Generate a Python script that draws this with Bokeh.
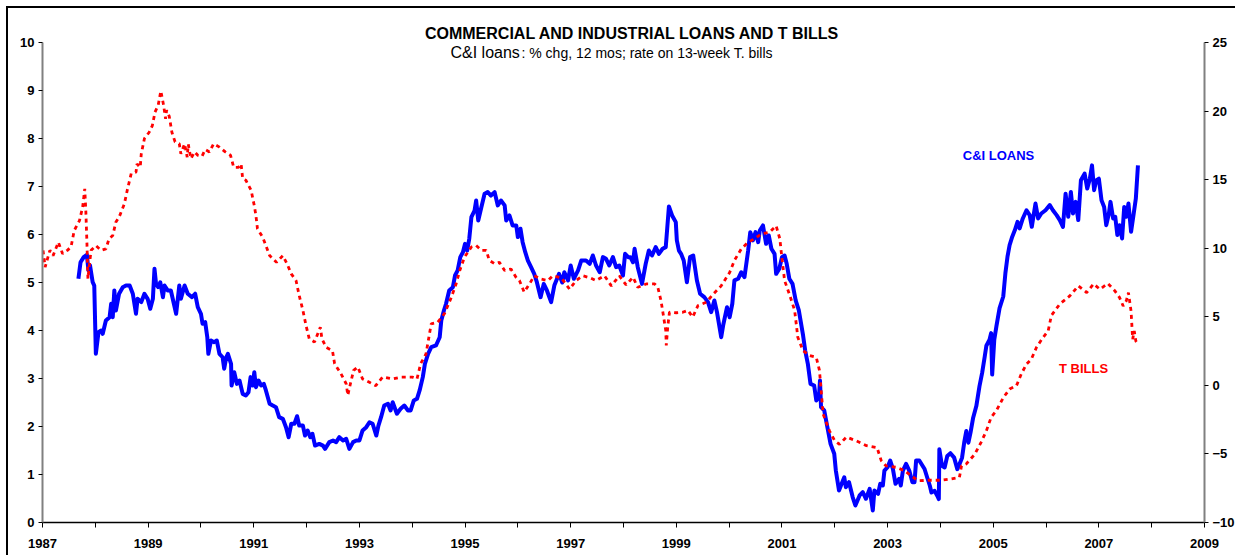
from bokeh.plotting import figure
from bokeh.models import Range1d, LinearAxis, FixedTicker, Label
from bokeh.embed import file_html
from bokeh.resources import INLINE

# ---- data ----
tbill_years = [1987.01, 1987.05, 1987.14, 1987.20, 1987.30, 1987.38, 1987.47, 1987.54, 1987.60, 1987.70,
               1987.76, 1987.80, 1987.82, 1987.84, 1987.86, 1987.89, 1987.92, 1988.01, 1988.11, 1988.20,
               1988.26, 1988.33, 1988.39, 1988.45, 1988.55, 1988.61, 1988.68, 1988.77, 1988.79, 1988.85,
               1988.87, 1988.93, 1989.02, 1989.08, 1989.13, 1989.19, 1989.24, 1989.29, 1989.33, 1989.35,
               1989.40, 1989.45, 1989.51, 1989.59, 1989.62, 1989.69, 1989.74, 1989.76, 1989.81, 1989.88,
               1989.94, 1990.02, 1990.08, 1990.16, 1990.24, 1990.35, 1990.46, 1990.56, 1990.62, 1990.71,
               1990.76, 1990.79, 1990.85, 1990.95, 1991.01, 1991.04, 1991.07, 1991.17, 1991.23, 1991.30,
               1991.43, 1991.55, 1991.63, 1991.71, 1991.80, 1991.86, 1991.93, 1991.99, 1992.05, 1992.15,
               1992.26, 1992.29, 1992.37, 1992.49, 1992.53, 1992.65, 1992.75, 1992.78, 1992.83, 1992.89,
               1992.97, 1993.06, 1993.19, 1993.31, 1993.44, 1993.63, 1993.80, 1994.00, 1994.09, 1994.16,
               1994.26, 1994.36, 1994.48, 1994.61, 1994.74, 1994.83, 1994.90, 1994.99, 1995.12, 1995.21,
               1995.31, 1995.40, 1995.46, 1995.56, 1995.65, 1995.75, 1995.87, 1995.97, 1996.03, 1996.12,
               1996.22, 1996.31, 1996.44, 1996.57, 1996.66, 1996.82, 1996.98, 1997.10, 1997.23, 1997.36,
               1997.48, 1997.64, 1997.77, 1997.92, 1998.05, 1998.18, 1998.27, 1998.43, 1998.59, 1998.65,
               1998.71, 1998.75, 1998.80, 1998.81, 1998.84, 1998.87, 1999.00, 1999.12, 1999.22, 1999.31,
               1999.41, 1999.57, 1999.70, 1999.85, 2000.01, 2000.10, 2000.23, 2000.36, 2000.48, 2000.61,
               2000.77, 2000.89, 2000.96, 2000.99, 2001.05, 2001.14, 2001.24, 2001.30, 2001.40, 2001.52,
               2001.65, 2001.71, 2001.78, 2001.90, 2002.00, 2002.09, 2002.22, 2002.41, 2002.60, 2002.80,
               2002.88, 2002.97, 2003.16, 2003.32, 2003.45, 2003.58, 2003.77, 2004.02, 2004.21, 2004.36,
               2004.40, 2004.49, 2004.65, 2004.77, 2004.87, 2004.96, 2005.06, 2005.19, 2005.31, 2005.44,
               2005.53, 2005.63, 2005.72, 2005.82, 2005.94, 2006.04, 2006.10, 2006.26, 2006.45, 2006.61,
               2006.77, 2006.90, 2007.02, 2007.17, 2007.30, 2007.39, 2007.46, 2007.52, 2007.56, 2007.61,
               2007.64, 2007.67, 2007.70, 2007.75]
tbill_rate = [5.67, 5.32, 5.67, 5.56, 5.84, 5.60, 5.67, 5.74, 6.08, 6.29,
              6.57, 6.95, 6.50, 5.87, 5.08, 5.39, 5.67, 5.77, 5.67, 5.70,
              5.91, 5.98, 6.26, 6.36, 6.64, 6.95, 7.27, 7.30, 7.47, 7.40,
              7.68, 8.00, 8.13, 8.27, 8.55, 8.69, 8.99, 8.71, 8.41, 8.59,
              8.46, 8.13, 7.93, 7.89, 7.68, 7.89, 7.61, 7.88, 7.58, 7.72,
              7.65, 7.63, 7.77, 7.72, 7.89, 7.82, 7.72, 7.65, 7.40, 7.40,
              7.47, 7.16, 7.13, 6.92, 6.60, 6.40, 6.12, 5.94, 5.77, 5.56,
              5.42, 5.56, 5.39, 5.18, 5.04, 4.73, 4.42, 4.10, 3.83, 3.76,
              4.07, 3.83, 3.65, 3.58, 3.31, 3.10, 2.89, 2.65, 2.89, 3.17,
              3.24, 2.99, 2.92, 2.85, 3.03, 2.99, 3.03, 3.03, 2.99, 3.31,
              3.51, 4.14, 4.17, 4.35, 4.69, 4.97, 5.25, 5.53, 5.74, 5.77,
              5.67, 5.67, 5.46, 5.39, 5.42, 5.25, 5.28, 5.10, 5.04, 4.80,
              4.97, 5.14, 5.07, 5.04, 5.14, 5.10, 4.86, 5.04, 5.14, 5.10,
              5.04, 5.14, 4.93, 5.14, 4.95, 5.11, 4.90, 4.97, 4.97, 4.90,
              4.62, 4.35, 4.00, 3.69, 4.10, 4.38, 4.37, 4.38, 4.42, 4.28,
              4.52, 4.59, 4.76, 4.93, 5.21, 5.46, 5.70, 5.84, 5.91, 6.01,
              6.05, 6.18, 5.91, 5.60, 5.04, 4.76, 4.42, 3.86, 3.58, 3.48,
              3.44, 3.17, 2.26, 1.91, 1.70, 1.63, 1.78, 1.70, 1.60, 1.56,
              1.29, 1.18, 1.15, 1.08, 0.97, 0.87, 0.88, 0.88, 0.91, 0.94,
              1.18, 1.22, 1.42, 1.67, 1.91, 2.19, 2.33, 2.60, 2.78, 2.85,
              3.09, 3.30, 3.40, 3.65, 3.85, 3.99, 4.31, 4.55, 4.72, 4.93,
              4.79, 4.97, 4.86, 4.98, 4.83, 4.69, 4.51, 4.62, 4.79, 4.40,
              3.82, 3.99, 3.78, 3.71]

loan_years = [1987.68, 1987.72, 1987.78, 1987.84, 1987.87, 1987.90, 1987.95, 1987.98, 1988.01, 1988.06,
              1988.11, 1988.14, 1988.20, 1988.27, 1988.30, 1988.33, 1988.36, 1988.39, 1988.45, 1988.52,
              1988.58, 1988.65, 1988.71, 1988.77, 1988.80, 1988.87, 1988.93, 1988.99, 1989.04, 1989.09,
              1989.12, 1989.15, 1989.19, 1989.23, 1989.28, 1989.31, 1989.37, 1989.43, 1989.53, 1989.59,
              1989.62, 1989.69, 1989.75, 1989.83, 1989.89, 1989.94, 1990.00, 1990.03, 1990.08, 1990.12,
              1990.14, 1990.19, 1990.25, 1990.30, 1990.35, 1990.41, 1990.44, 1990.48, 1990.51, 1990.57,
              1990.58, 1990.63, 1990.68, 1990.73, 1990.79, 1990.85, 1990.90, 1990.94, 1990.98, 1991.01,
              1991.04, 1991.09, 1991.14, 1991.19, 1991.23, 1991.30, 1991.36, 1991.42, 1991.48, 1991.55,
              1991.61, 1991.66, 1991.71, 1991.77, 1991.82, 1991.86, 1991.93, 1991.97, 1992.02, 1992.07,
              1992.11, 1992.16, 1992.24, 1992.31, 1992.35, 1992.43, 1992.50, 1992.56, 1992.62, 1992.69,
              1992.75, 1992.81, 1992.88, 1992.94, 1993.00, 1993.06, 1993.13, 1993.19, 1993.25, 1993.32,
              1993.36, 1993.41, 1993.47, 1993.54, 1993.59, 1993.63, 1993.71, 1993.78, 1993.85, 1993.92,
              1993.97, 1994.03, 1994.09, 1994.14, 1994.20, 1994.24, 1994.30, 1994.36, 1994.45, 1994.52,
              1994.55, 1994.60, 1994.64, 1994.70, 1994.77, 1994.81, 1994.86, 1994.91, 1994.96, 1995.00,
              1995.04, 1995.08, 1995.12, 1995.18, 1995.21, 1995.25, 1995.31, 1995.37, 1995.43, 1995.49,
              1995.56, 1995.62, 1995.68, 1995.75, 1995.78, 1995.84, 1995.90, 1995.97, 1996.00, 1996.05,
              1996.09, 1996.14, 1996.19, 1996.25, 1996.31, 1996.36, 1996.43, 1996.49, 1996.55, 1996.63,
              1996.69, 1996.78, 1996.84, 1996.88, 1996.95, 1997.00, 1997.06, 1997.14, 1997.20, 1997.29,
              1997.36, 1997.42, 1997.48, 1997.55, 1997.61, 1997.67, 1997.73, 1997.80, 1997.86, 1997.92,
              1997.99, 1998.03, 1998.09, 1998.13, 1998.18, 1998.21, 1998.27, 1998.35, 1998.42, 1998.48,
              1998.54, 1998.61, 1998.67, 1998.74, 1998.80, 1998.86, 1998.92, 1998.99, 1999.01, 1999.05,
              1999.09, 1999.14, 1999.20, 1999.26, 1999.32, 1999.39, 1999.45, 1999.53, 1999.60, 1999.66,
              1999.72, 1999.77, 1999.85, 1999.89, 1999.96, 2000.01, 2000.06, 2000.10, 2000.17, 2000.23,
              2000.29, 2000.36, 2000.40, 2000.45, 2000.50, 2000.55, 2000.58, 2000.64, 2000.70, 2000.75,
              2000.80, 2000.86, 2000.89, 2000.95, 2001.00, 2001.05, 2001.09, 2001.14, 2001.20, 2001.26,
              2001.32, 2001.40, 2001.44, 2001.49, 2001.54, 2001.61, 2001.65, 2001.70, 2001.72, 2001.74,
              2001.80, 2001.86, 2001.92, 2001.99, 2002.02, 2002.08, 2002.13, 2002.18, 2002.21, 2002.27,
              2002.34, 2002.39, 2002.47, 2002.53, 2002.59, 2002.66, 2002.72, 2002.75, 2002.82, 2002.86,
              2002.91, 2002.94, 2003.00, 2003.05, 2003.10, 2003.15, 2003.22, 2003.25, 2003.29, 2003.35,
              2003.41, 2003.47, 2003.51, 2003.54, 2003.60, 2003.70, 2003.75, 2003.80, 2003.83, 2003.89,
              2003.94, 2003.97, 2003.98, 2004.03, 2004.08, 2004.13, 2004.19, 2004.26, 2004.32, 2004.36,
              2004.41, 2004.45, 2004.49, 2004.53, 2004.57, 2004.62, 2004.68, 2004.74, 2004.79, 2004.84,
              2004.87, 2004.93, 2004.96, 2004.98, 2005.02, 2005.06, 2005.12, 2005.19, 2005.23, 2005.27,
              2005.31, 2005.36, 2005.41, 2005.46, 2005.50, 2005.56, 2005.63, 2005.69, 2005.73, 2005.80,
              2005.85, 2005.91, 2005.99, 2006.07, 2006.13, 2006.20, 2006.26, 2006.32, 2006.37, 2006.42,
              2006.47, 2006.51, 2006.56, 2006.61, 2006.66, 2006.73, 2006.78, 2006.83, 2006.87, 2006.91,
              2006.95, 2007.00, 2007.05, 2007.10, 2007.14, 2007.19, 2007.22, 2007.27, 2007.31, 2007.35,
              2007.39, 2007.44, 2007.48, 2007.52, 2007.56, 2007.61, 2007.66, 2007.70, 2007.74]
loan_growth = [7.77, 8.98, 9.35, 9.52, 8.38, 8.74, 7.52, 7.28, 2.30, 3.88,
               4.00, 3.76, 4.73, 4.97, 5.95, 4.97, 6.92, 5.46, 6.68, 7.16,
               7.28, 7.28, 6.68, 5.22, 6.31, 6.07, 6.68, 6.31, 5.58, 6.31,
               8.50, 7.40, 7.16, 7.52, 6.43, 7.28, 6.92, 6.92, 5.22, 7.28,
               6.31, 7.28, 6.68, 6.43, 6.68, 5.70, 5.22, 4.49, 4.61, 3.51,
               2.30, 3.27, 3.15, 3.27, 2.30, 2.05, 1.21, 2.05, 2.30, 1.57,
               -0.01, 0.96, 0.11, 0.35, -0.62, -0.74, -0.50, 0.60, -0.01, 0.96,
               -0.13, 0.35, -0.01, 0.11, -0.37, -1.34, -1.47, -1.59, -2.32, -2.44,
               -3.05, -3.78, -2.80, -2.80, -2.25, -2.93, -2.93, -3.66, -3.29, -3.78,
               -3.53, -4.39, -4.27, -4.39, -4.63, -4.14, -4.02, -4.14, -3.78, -4.02,
               -3.90, -4.63, -4.14, -4.02, -4.02, -3.29, -3.05, -2.69, -2.80, -3.66,
               -2.93, -2.32, -1.47, -1.34, -1.83, -1.23, -2.07, -1.71, -1.47, -1.83,
               -1.83, -1.10, -0.98, -0.37, 0.60, 1.57, 2.30, 2.78, 2.91, 3.51,
               4.73, 5.46, 5.95, 6.92, 7.16, 8.01, 8.38, 9.35, 9.71, 10.32,
               9.83, 10.69, 12.26, 12.75, 13.48, 12.02, 13.00, 13.97, 14.09, 13.84,
               14.09, 13.12, 13.48, 13.12, 12.02, 12.39, 11.66, 11.66, 10.81, 11.42,
               10.44, 9.71, 9.10, 8.62, 8.13, 7.52, 6.43, 7.40, 6.92, 6.07,
               7.28, 8.13, 7.50, 8.25, 7.65, 8.74, 7.77, 8.38, 9.10, 9.10,
               8.86, 9.47, 8.74, 8.25, 9.35, 9.23, 8.74, 9.35, 8.62, 8.74,
               8.01, 9.59, 9.35, 9.35, 8.98, 9.96, 8.62, 7.40, 8.86, 9.83,
               9.47, 10.08, 9.59, 9.96, 10.08, 13.04, 12.39, 11.90, 10.57, 9.83,
               9.59, 9.10, 7.52, 9.35, 9.47, 7.65, 6.68, 6.43, 6.07, 5.34,
               6.19, 5.34, 3.51, 4.44, 5.70, 4.97, 5.95, 7.65, 7.77, 8.25,
               7.89, 9.83, 11.17, 10.57, 11.17, 10.44, 11.29, 11.66, 10.32, 10.93,
               9.96, 9.59, 8.13, 8.50, 9.35, 9.47, 8.86, 7.77, 7.40, 6.19,
               5.46, 3.64, 2.54, 1.57, 0.11, -0.01, -1.10, -0.86, 0.35, -1.59,
               -1.83, -3.05, -4.27, -4.99, -6.21, -7.67, -7.18, -6.70, -7.43, -7.06,
               -8.16, -8.76, -8.03, -7.79, -8.27, -7.55, -9.12, -7.67, -7.91, -7.18,
               -7.30, -6.21, -5.97, -5.48, -6.09, -7.18, -6.81, -7.30, -6.21, -5.72,
               -6.21, -7.06, -7.06, -5.48, -5.48, -6.10, -6.72, -7.32, -7.81, -7.69,
               -8.05, -8.29, -4.66, -5.87, -5.99, -5.15, -4.95, -5.27, -6.11, -5.75,
               -5.27, -4.18, -3.33, -4.18, -3.45, -2.36, -1.51, -0.06, 0.91, 2.12,
               2.89, 3.33, 3.81, 0.79, 3.33, 4.30, 5.63, 6.48, 8.17, 9.38,
               10.23, 10.84, 11.32, 11.92, 11.44, 12.17, 12.77, 12.41, 11.56, 13.26,
               12.17, 12.53, 12.77, 13.14, 12.77, 12.41, 12.05, 11.56, 13.98, 12.29,
               14.10, 12.53, 13.38, 12.05, 14.95, 15.44, 14.35, 15.07, 16.04, 14.23,
               14.95, 15.07, 13.50, 13.01, 11.68, 12.53, 13.38, 12.17, 12.29, 10.96,
               11.68, 10.71, 13.01, 12.29, 13.26, 11.20, 12.53, 13.62, 16.04]

year_ticks = list(range(1987, 2010))
left_ticks = list(range(0, 11))
right_ticks = list(range(-10, 26, 5))

FONT = "Liberation Sans"

# plotting area extends a little above the axes' top (10 / 25) to hold the titles
LEFT_TOP = 10.5
RIGHT_TOP = -10 + 3.5 * LEFT_TOP

p = figure(width=1229, height=549, output_backend="svg", toolbar_location=None,
           x_range=Range1d(1987, 2009), y_range=Range1d(0, LEFT_TOP),
           min_border_left=34, min_border_top=10, min_border_right=33, min_border_bottom=35,
           background_fill_color="white", border_fill_color="white")
p.styles = {"margin-left": "6px", "margin-top": "6px",
            "border-left": "2px solid black", "border-top": "2px solid black"}
p.outline_line_color = None
p.grid.visible = False
p.extra_y_ranges = {"right": Range1d(-10, RIGHT_TOP)}

# data lines
p.line(loan_years, loan_growth, y_range_name="right", line_color="#0000FF", line_width=4,
       line_join="round")
p.line(tbill_years, tbill_rate, line_color="#FF0000", line_width=2.8, line_dash="4 4")

# axes styling
xa = p.xaxis[0]
xa.ticker = FixedTicker(ticks=year_ticks)
xa.major_label_overrides = {y: ("" if (y - 1987) % 2 else str(y)) for y in year_ticks}
xa.axis_line_color = "black"
xa.axis_line_width = 1.5
xa.major_tick_line_color = "black"
xa.major_tick_in = 0
xa.major_tick_out = 5
xa.minor_tick_line_color = None
xa.major_label_standoff = 11

ya = p.yaxis[0]
ya.ticker = FixedTicker(ticks=left_ticks)
ya.bounds = (0, 10)
ra = LinearAxis(y_range_name="right", ticker=FixedTicker(ticks=right_ticks), bounds=(-10, 25))
p.add_layout(ra, "right")

for ax in (ya, ra):
    ax.axis_line_color = "#808080"
    ax.axis_line_width = 2
    ax.major_tick_line_color = "black"
    ax.major_tick_in = 0
    ax.major_tick_out = 4
    ax.minor_tick_line_color = None
    ax.major_label_standoff = 4

for ax in (xa, ya, ra):
    ax.major_label_text_font = FONT
    ax.major_label_text_font_style = "bold"
    ax.major_label_text_font_size = "13px"
    ax.major_label_text_color = "black"

# titles and series labels (screen units relative to the plot frame's bottom-left)
p.add_layout(Label(x=590, y=489, x_units="screen", y_units="screen",
                   text="COMMERCIAL AND INDUSTRIAL LOANS AND T BILLS", text_align="center",
                   text_baseline="alphabetic", text_font=FONT, text_font_style="bold",
                   text_font_size="16px", text_color="black"))
p.add_layout(Label(x=408, y=470, x_units="screen", y_units="screen",
                   text="C&I loans", text_align="left", text_baseline="alphabetic",
                   text_font=FONT, text_font_size="16px", text_color="black"))
p.add_layout(Label(x=479, y=470, x_units="screen", y_units="screen",
                   text=": % chg, 12 mos; rate on 13-week T. bills", text_align="left",
                   text_baseline="alphabetic", text_font=FONT, text_font_size="14px",
                   text_color="black"))
p.add_layout(Label(x=956, y=367, x_units="screen", y_units="screen",
                   text="C&I LOANS", text_align="center", text_baseline="middle",
                   text_font=FONT, text_font_style="bold", text_font_size="13px",
                   text_color="#0000FF"))
p.add_layout(Label(x=1041, y=154, x_units="screen", y_units="screen",
                   text="T BILLS", text_align="center", text_baseline="middle",
                   text_font=FONT, text_font_style="bold", text_font_size="13px",
                   text_color="#FF0000"))

open("out.html", "w").write(file_html(p, INLINE))
